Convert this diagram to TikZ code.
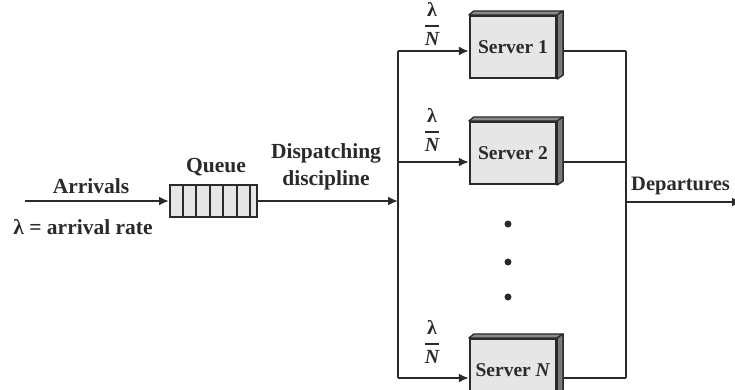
\documentclass[tikz,border=0pt]{standalone}
\usepackage{fontspec}
\usepackage{amsmath}
\setmainfont{Liberation Serif}
\usetikzlibrary{arrows.meta}
\definecolor{ink}{HTML}{2A2A2A}
\definecolor{boxfill}{HTML}{E6E6E6}
\definecolor{sideface}{HTML}{7A7A7A}
\definecolor{topface}{HTML}{8A8A8A}
\newcommand{\lamfrac}{$\genfrac{}{}{1.8pt}{0}{\mbox{λ}}{\mbox{\itshape N}}$}
\begin{document}
\begin{tikzpicture}[x=1pt,y=-1pt,
  wire/.style={draw=ink,line width=2pt},
  arr/.style={wire,-{Latex[length=10pt,width=9pt]}},
  lbl/.style={font=\fontsize{21.5}{27}\selectfont\bfseries,text=ink,inner sep=0pt},
  srv/.style={draw=ink,line width=2.2pt,fill=boxfill,minimum width=86pt,minimum height=62pt,inner sep=0pt,font=\fontsize{19.5}{22}\selectfont\bfseries,text=ink},
  qbox/.style={draw=ink,line width=2pt,fill=boxfill,minimum width=87pt,minimum height=32pt,inner sep=0pt},
  fracl/.style={font=\fontsize{20}{24}\selectfont\bfseries,text=ink,inner sep=0pt,anchor=base},
  dot/.style={fill=ink}]
\useasboundingbox (0,0) rectangle (735,389);

% arrivals and queue
\coordinate (a0) at (25,201);
\node[qbox] (q) at (213.5,201) {};
\foreach \dx in {14,27,41,54,68,81}
  \draw[ink,line width=1.8pt] ([xshift=\dx pt]q.north west) -- ([xshift=\dx pt]q.south west);
\draw[arr] (a0) -- (q.west);
\node[lbl] (arrl) at (91,186) {Arrivals};
\node[lbl] (rate) at (83,227) {λ = arrival rate};
\node[lbl] (ql) at (216,167) {Queue};

% dispatching
\coordinate (sp) at (398,201);
\draw[arr] (q.east) -- (sp);
\node[lbl,align=center] (disp) at (326,167) {Dispatching\\discipline};

% servers
\node[srv] (s1) at (513,47) {Server 1};
\node[srv] (s2) at (513,153) {Server 2};
\node[srv] (sN) at (513,370) {Server \textit{N}};
\foreach \s in {s1,s2,sN}{
  \filldraw[fill=topface,draw=ink,line width=1.3pt,line join=round]
    (\s.north west) -- ++(5,-4) -- ([shift={(6,-4)}]\s.north east) -- (\s.north east) -- cycle;
  \filldraw[fill=sideface,draw=ink,line width=1.3pt,line join=round]
    (\s.north east) -- ++(6,-4) -- ([shift={(6,-4)}]\s.south east) -- (\s.south east) -- cycle;
}

% branch points
\coordinate (b1) at (398,51);
\coordinate (b2) at (398,162);
\coordinate (bN) at (398,378);
\coordinate (m1) at (626,51);
\coordinate (m2) at (626,162);
\coordinate (mN) at (626,378);
\draw[wire] (b1) -- (bN);
\draw[wire] (m1) -- (mN);
\draw[arr] (b1) -- (b1 -| s1.west);
\draw[arr] (b2) -- (b2 -| s2.west);
\draw[arr] (bN) -- (bN -| sN.west);
\draw[wire] ([xshift=6pt]b1 -| s1.east) -- (m1);
\draw[wire] ([xshift=6pt]b2 -| s2.east) -- (m2);
\draw[wire] ([xshift=6pt]bN -| sN.east) -- (mN);

% fractions
\node[fracl] (f1) at (432,31) {\lamfrac};
\node[fracl] (f2) at (432,137) {\lamfrac};
\node[fracl] (fN) at (432,349) {\lamfrac};

% dots
\fill[dot] (508,224) circle (3.5);
\fill[dot] (508,262) circle (3.5);
\fill[dot] (508,297) circle (3.5);

% departures
\coordinate (d0) at (626,202);
\coordinate (d1) at (742,202);
\draw[arr] (d0) -- (d1);
\node[lbl,anchor=west,font=\fontsize{20.5}{26}\selectfont\bfseries] (depl) at (631,186) {Departures};
\end{tikzpicture}
\end{document}
